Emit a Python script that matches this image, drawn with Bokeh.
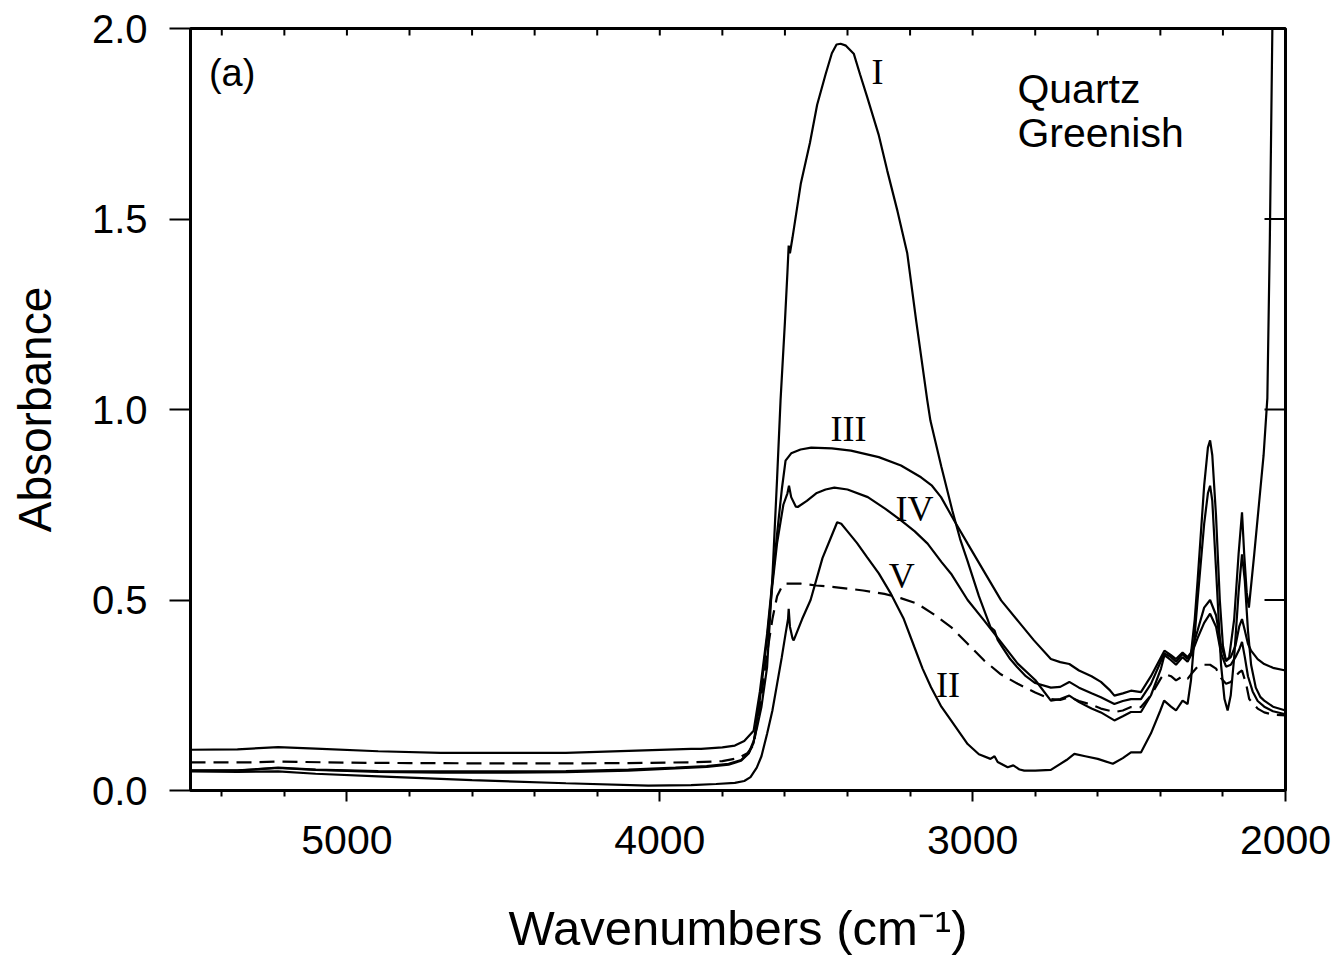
import math
from bokeh.plotting import figure
from bokeh.models import Range1d, FixedTicker, PrintfTickFormatter, Label
from bokeh.embed import file_html
from bokeh.resources import INLINE

# ---- data ----
wn_I = [5500, 5350, 5220, 5100, 4900, 4700, 4500, 4300, 4100, 3950, 3850, 3780, 3740, 3715, 3700,
        3689, 3675, 3657, 3640, 3625, 3614, 3600, 3592, 3588, 3584, 3576, 3549, 3520, 3497, 3470,
        3450, 3435, 3422, 3405, 3380, 3360, 3337, 3300, 3273, 3240, 3209, 3180, 3145, 3135, 3100,
        3065, 3040, 3017, 2980, 2943, 2930, 2920, 2900, 2880, 2858, 2830, 2800, 2750, 2720, 2691,
        2660, 2620, 2590, 2547, 2520, 2494, 2462, 2430, 2398, 2387, 2366, 2350, 2329, 2313, 2302,
        2290, 2281, 2260, 2248, 2241, 2234, 2222, 2210, 2200, 2190, 2180, 2164, 2150, 2139, 2132,
        2124, 2117, 2100, 2085, 2070, 2058, 2050, 2042, 2038]
abs_I = [0.052, 0.052, 0.060, 0.055, 0.051, 0.050, 0.050, 0.051, 0.055, 0.060, 0.064, 0.070, 0.080, 0.100, 0.130,
         0.166, 0.220, 0.324, 0.560, 0.820, 1.024, 1.230, 1.360, 1.430, 1.410, 1.450, 1.594, 1.700, 1.800, 1.880,
         1.935, 1.958, 1.960, 1.955, 1.934, 1.880, 1.820, 1.720, 1.627, 1.520, 1.410, 1.230, 1.024, 0.971, 0.850,
         0.735, 0.660, 0.604, 0.510, 0.429, 0.420, 0.395, 0.370, 0.345, 0.324, 0.300, 0.282, 0.270, 0.272, 0.285,
         0.270, 0.255, 0.245, 0.227, 0.235, 0.240, 0.240, 0.280, 0.340, 0.360, 0.350, 0.338, 0.358, 0.345, 0.360,
         0.450, 0.550, 0.800, 0.900, 0.919, 0.880, 0.720, 0.500, 0.380, 0.340, 0.350, 0.450, 0.620, 0.730, 0.620,
         0.520, 0.480, 0.620, 0.750, 0.880, 1.030, 1.450, 2.000, 2.200]

wn_II = [5500, 5350, 5220, 5100, 4900, 4600, 4300, 4037, 3900, 3820, 3760, 3730, 3710, 3690, 3675,
         3657, 3640, 3625, 3610, 3598, 3590, 3588, 3584, 3576, 3572, 3545, 3518, 3480, 3450, 3433,
         3420, 3400, 3370, 3337, 3300, 3261, 3220, 3186, 3160, 3133, 3100, 3069, 3040, 3016, 2980,
         2943, 2930, 2920, 2888, 2870, 2850, 2835, 2800, 2750, 2700, 2675, 2640, 2600, 2552, 2520,
         2494, 2462, 2430, 2400, 2388, 2366, 2350, 2329, 2313, 2302, 2281, 2260, 2248, 2241, 2234,
         2222, 2206, 2195, 2185, 2175, 2164, 2150, 2139, 2130, 2120, 2110, 2095, 2080, 2068, 2040, 2000]
abs_II = [0.050, 0.049, 0.050, 0.044, 0.037, 0.027, 0.019, 0.013, 0.014, 0.017, 0.020, 0.025, 0.035, 0.060, 0.090,
          0.149, 0.210, 0.280, 0.350, 0.411, 0.450, 0.477, 0.430, 0.400, 0.394, 0.450, 0.500, 0.610, 0.670, 0.704,
          0.700, 0.680, 0.650, 0.612, 0.570, 0.516, 0.450, 0.376, 0.320, 0.271, 0.220, 0.184, 0.150, 0.122, 0.095,
          0.083, 0.090, 0.075, 0.061, 0.066, 0.055, 0.052, 0.052, 0.054, 0.080, 0.096, 0.090, 0.083, 0.070, 0.085,
          0.100, 0.100, 0.150, 0.210, 0.236, 0.220, 0.210, 0.236, 0.227, 0.290, 0.500, 0.700, 0.780, 0.800, 0.760,
          0.580, 0.330, 0.240, 0.210, 0.250, 0.350, 0.520, 0.620, 0.550, 0.420, 0.330, 0.270, 0.245, 0.236, 0.220, 0.210]

wn_III = [5500, 5350, 5220, 5100, 4900, 4700, 4500, 4300, 4100, 3900, 3868, 3800, 3760, 3730, 3700,
          3680, 3657, 3640, 3625, 3610, 3598, 3580, 3550, 3516, 3450, 3389, 3300, 3229, 3165, 3130,
          3101, 3060, 3016, 2960, 2909, 2850, 2804, 2750, 2720, 2691, 2660, 2620, 2590, 2560, 2547,
          2520, 2494, 2462, 2430, 2398, 2387, 2366, 2350, 2329, 2313, 2302, 2281, 2260, 2241, 2222,
          2206, 2190, 2175, 2160, 2148, 2139, 2130, 2120, 2110, 2089, 2068, 2040, 2000]
abs_III = [0.107, 0.108, 0.114, 0.110, 0.103, 0.099, 0.099, 0.099, 0.104, 0.109, 0.109, 0.113, 0.118, 0.130, 0.157,
           0.260, 0.411, 0.550, 0.674, 0.790, 0.866, 0.885, 0.895, 0.900, 0.898, 0.892, 0.875, 0.853, 0.822, 0.800,
           0.770, 0.710, 0.648, 0.570, 0.499, 0.440, 0.394, 0.345, 0.337, 0.332, 0.315, 0.300, 0.285, 0.262, 0.249,
           0.255, 0.262, 0.258, 0.300, 0.350, 0.367, 0.355, 0.345, 0.362, 0.350, 0.362, 0.420, 0.480, 0.500, 0.460,
           0.380, 0.340, 0.350, 0.380, 0.430, 0.450, 0.420, 0.385, 0.367, 0.345, 0.332, 0.322, 0.315]

wn_IV = [5500, 5350, 5220, 5100, 4900, 4700, 4500, 4300, 4100, 3950, 3850, 3780, 3740, 3715, 3700,
         3680, 3657, 3640, 3625, 3605, 3592, 3587, 3580, 3565, 3559, 3530, 3500, 3470, 3442, 3400,
         3335, 3280, 3229, 3185, 3144, 3100, 3069, 3016, 2963, 2910, 2856, 2800, 2750, 2720, 2691,
         2660, 2620, 2590, 2547, 2520, 2494, 2462, 2430, 2398, 2387, 2366, 2350, 2329, 2313, 2302,
         2281, 2260, 2241, 2222, 2206, 2190, 2175, 2160, 2148, 2139, 2130, 2120, 2105, 2089, 2068, 2040, 2000]
abs_IV = [0.053, 0.053, 0.059, 0.054, 0.049, 0.047, 0.047, 0.048, 0.052, 0.058, 0.062, 0.068, 0.078, 0.098, 0.125,
          0.240, 0.400, 0.540, 0.650, 0.750, 0.780, 0.800, 0.770, 0.745, 0.744, 0.760, 0.780, 0.790, 0.795, 0.790,
          0.770, 0.740, 0.709, 0.680, 0.648, 0.600, 0.569, 0.500, 0.446, 0.390, 0.333, 0.290, 0.236, 0.240, 0.249,
          0.232, 0.215, 0.205, 0.184, 0.195, 0.206, 0.206, 0.250, 0.320, 0.355, 0.342, 0.330, 0.350, 0.338, 0.355,
          0.400, 0.440, 0.464, 0.430, 0.360, 0.325, 0.330, 0.350, 0.370, 0.390, 0.350, 0.300, 0.260, 0.235, 0.220, 0.208, 0.200]

wn_V = [5500, 5300, 5220, 5000, 4800, 4500, 4300, 4100, 3900, 3800, 3750, 3720, 3700, 3680, 3657,
        3640, 3625, 3610, 3600, 3550, 3500, 3442, 3350, 3282, 3230, 3176, 3120, 3069, 3016, 2963,
        2910, 2856, 2800, 2750, 2720, 2691, 2660, 2620, 2590, 2547, 2520, 2494, 2462, 2430, 2398,
        2387, 2366, 2350, 2329, 2313, 2302, 2281, 2260, 2241, 2222, 2206, 2190, 2175, 2160, 2148,
        2139, 2126, 2116, 2100, 2089, 2068, 2040, 2000]
abs_V = [0.074, 0.074, 0.076, 0.073, 0.072, 0.071, 0.071, 0.072, 0.074, 0.077, 0.085, 0.098, 0.120, 0.220, 0.360,
         0.450, 0.510, 0.535, 0.543, 0.543, 0.538, 0.534, 0.525, 0.516, 0.505, 0.490, 0.460, 0.429, 0.385, 0.341,
         0.305, 0.280, 0.257, 0.240, 0.238, 0.245, 0.235, 0.225, 0.215, 0.206, 0.210, 0.219, 0.219, 0.250, 0.295,
         0.306, 0.300, 0.289, 0.300, 0.293, 0.305, 0.325, 0.330, 0.330, 0.320, 0.295, 0.280, 0.285, 0.300, 0.310,
         0.315, 0.280, 0.240, 0.225, 0.215, 0.205, 0.199, 0.197]

curve_labels = ["I", "II", "III", "IV", "V"]
label_wn = [3304, 3079, 3397, 3186, 3227]
label_abs = [1.885, 0.276, 0.950, 0.740, 0.562]

x_major = [5000, 4000, 3000, 2000]
x_minor = [5400, 5200, 4800, 4600, 4400, 4200, 3800, 3600, 3400, 3200, 2800, 2600, 2400, 2200]
top_ticks = [5400, 5200, 5000, 4800, 4600, 4400, 4200, 4000, 3800, 3600, 3400, 3200, 3000, 2800, 2600, 2400, 2200]
y_major = [0.0, 0.5, 1.0, 1.5, 2.0]
right_ticks = [0.5, 1.0, 1.5]

FONT = "Liberation Sans"
SERIF = "Liberation Serif"

p = figure(width=1339, height=966, output_backend="svg", toolbar_location=None,
           x_range=Range1d(5500, 2000), y_range=Range1d(0, 2.0),
           min_border_left=190, min_border_right=54, min_border_top=28, min_border_bottom=176)
p.grid.visible = False
p.outline_line_color = "black"
p.outline_line_width = 3
p.background_fill_color = "white"
p.border_fill_color = "white"

xa = p.xaxis[0]
xa.ticker = FixedTicker(ticks=x_major, minor_ticks=x_minor)
xa.axis_line_width = 3
xa.major_tick_line_width = 2
xa.minor_tick_line_width = 2
xa.major_tick_out = 11
xa.major_tick_in = 0
xa.minor_tick_out = 6
xa.minor_tick_in = 0
xa.major_label_text_font = FONT
xa.major_label_text_font_size = "41px"
xa.major_label_text_color = "black"
xa.major_label_standoff = 24
xa.axis_label = "Wavenumbers (cm\u207b\u00b9)"
xa.axis_label_text_font = FONT
xa.axis_label_text_font_size = "49px"
xa.axis_label_text_font_style = "normal"
xa.axis_label_text_color = "black"
xa.axis_label_standoff = 44

ya = p.yaxis[0]
ya.ticker = FixedTicker(ticks=y_major)
ya.formatter = PrintfTickFormatter(format="%.1f")
ya.axis_line_width = 3
ya.major_tick_line_width = 2
ya.major_tick_out = 21
ya.major_tick_in = 0
ya.minor_tick_line_color = None
ya.major_label_text_font = FONT
ya.major_label_text_font_size = "40px"
ya.major_label_text_color = "black"
ya.major_label_standoff = 22
ya.axis_label = "Absorbance"
ya.axis_label_text_font = FONT
ya.axis_label_text_font_size = "46px"
ya.axis_label_text_font_style = "normal"
ya.axis_label_text_color = "black"
ya.axis_label_standoff = 28

# inward ticks on the top and right frame edges
p.ray(x=top_ticks, y=[2.0] * len(top_ticks), length=7, length_units="screen",
      angle=-math.pi / 2, line_color="black", line_width=2)
p.ray(x=[2000] * len(right_ticks), y=right_ticks, length=21, length_units="screen",
      angle=math.pi, line_color="black", line_width=2)

solid = dict(line_color="black", line_width=2.2)
p.line(wn_I, abs_I, **solid)
p.line(wn_II, abs_II, **solid)
p.line(wn_III, abs_III, **solid)
p.line(wn_IV, abs_IV, **solid)
p.line(wn_V, abs_V, line_color="black", line_width=2.2, line_dash="15 8")

for t, xw, ya_ in zip(curve_labels, label_wn, label_abs):
    p.add_layout(Label(x=xw, y=ya_, text=t, text_font=SERIF, text_font_size="36px",
                       text_align="center", text_baseline="middle", text_color="black"))

p.add_layout(Label(x=5367, y=1.882, text="(a)", text_font=FONT, text_font_size="38px",
                   text_align="center", text_baseline="middle", text_color="black"))
p.add_layout(Label(x=2857, y=1.840, text="Quartz", text_font=FONT, text_font_size="41px",
                   text_align="left", text_baseline="middle", text_color="black"))
p.add_layout(Label(x=2857, y=1.725, text="Greenish", text_font=FONT, text_font_size="41px",
                   text_align="left", text_baseline="middle", text_color="black"))

open("out.html", "w").write(file_html(p, INLINE))
